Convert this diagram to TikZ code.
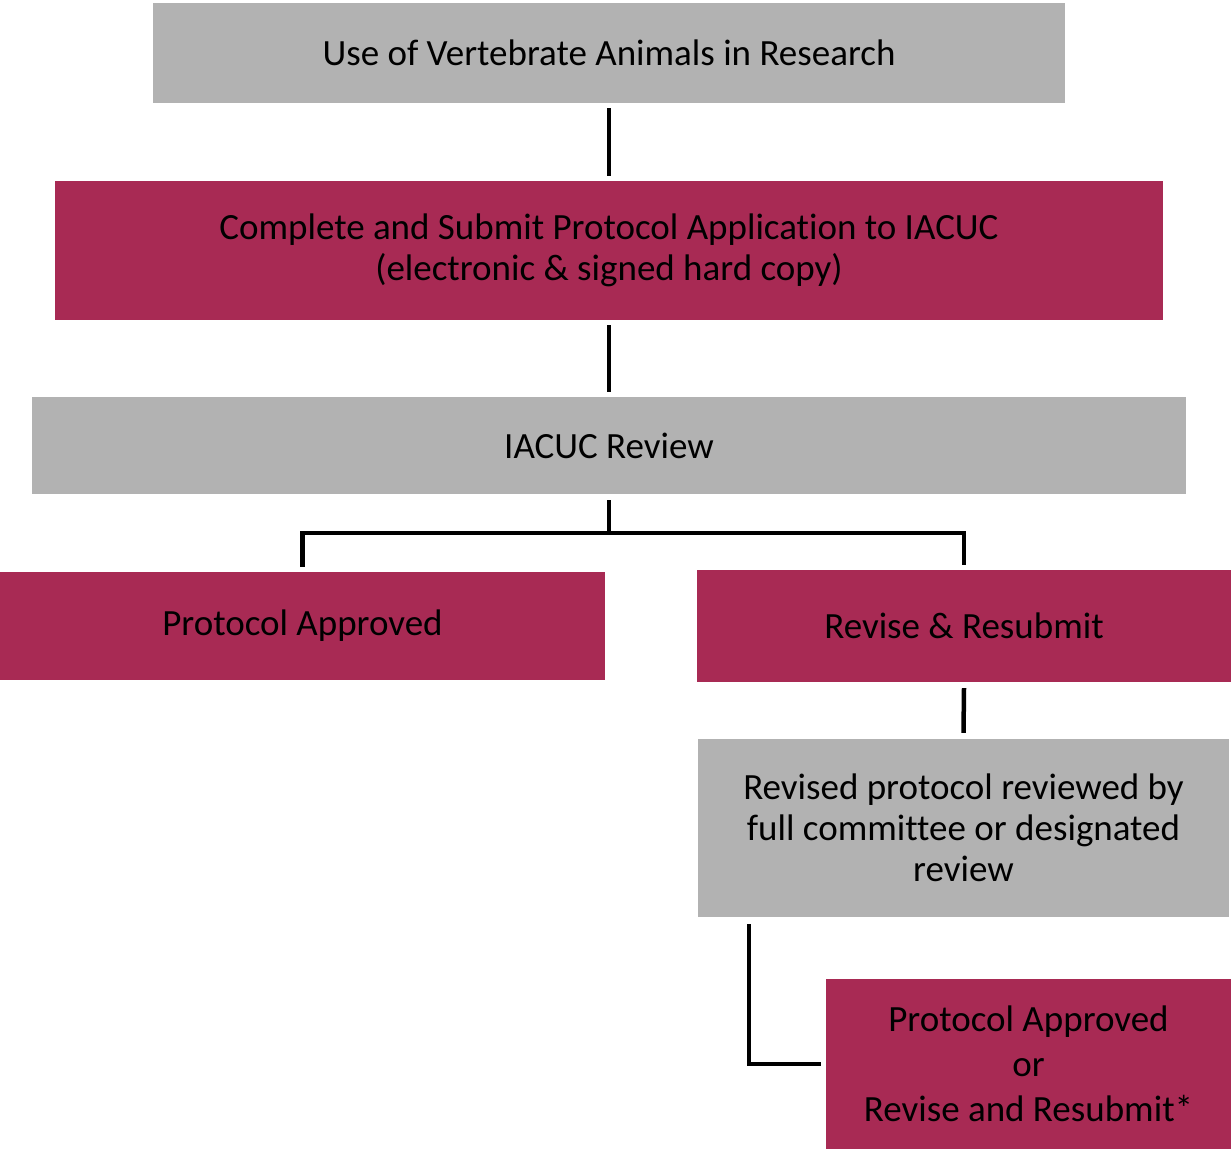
\documentclass[tikz,border=0pt]{standalone}
\usepackage{fontspec}
\setmainfont{Carlito}[Ligatures=NoCommon]
\usepackage{tikz}
\definecolor{boxgrey}{RGB}{178,178,178}
\definecolor{boxred}{RGB}{168,42,84}
\tikzset{
  box/.style={inner sep=0pt, align=center, font=\fontsize{37}{41}\selectfont},
  greybox/.style={box, fill=boxgrey},
  redbox/.style={box, fill=boxred},
  link/.style={line width=4.5pt, line join=miter}
}

\begin{document}
\begin{tikzpicture}[x=1pt,y=-1pt]
\useasboundingbox (0,0) rectangle (1231,1149);
\node[greybox, minimum width=912pt, minimum height=100pt] (use) at (609,53) {Use of Vertebrate Animals in Research};
\node[redbox, minimum width=1108pt, minimum height=139pt] (submit) at (609,250.5) {Complete and Submit Protocol Application to IACUC\\(electronic \& signed hard copy)};
\node[greybox, minimum width=1154pt, minimum height=97pt] (review) at (609,445.5) {IACUC Review};
\node[redbox, minimum width=605pt, minimum height=108pt] (approved) at (302.5,626) {Protocol Approved};
\node[redbox, minimum width=534pt, minimum height=112pt] (revise) at (964,626) {Revise \& Resubmit};
\node[greybox, minimum width=531pt, minimum height=178pt] (revised) at (963.5,828) {Revised protocol reviewed by\\full committee or designated\\review};
\node[redbox, minimum width=405pt, minimum height=170pt, font=\fontsize{37}{45}\selectfont] (final) at (1028.5,1064) {Protocol Approved\\or\\Revise and Resubmit*};
\draw[link] ([yshift=-5pt]use.south) -- ([yshift=5pt]submit.north);
\draw[link] ([yshift=-5pt]submit.south) -- ([yshift=5pt]review.north);
\draw[link] ([yshift=-6pt]review.south) -- ++(0,33) -| ([yshift=5pt]approved.north);
\draw[link] ([yshift=-6pt]review.south) -- ++(0,33) -| ([yshift=5pt]revise.north);
\draw[link] ([yshift=-6pt]revise.south) -- ([yshift=6pt]revised.north);
\draw[link] ([xshift=51pt,yshift=-7pt]revised.south west) |- ([xshift=-5pt]final.west);
\end{tikzpicture}
\end{document}
